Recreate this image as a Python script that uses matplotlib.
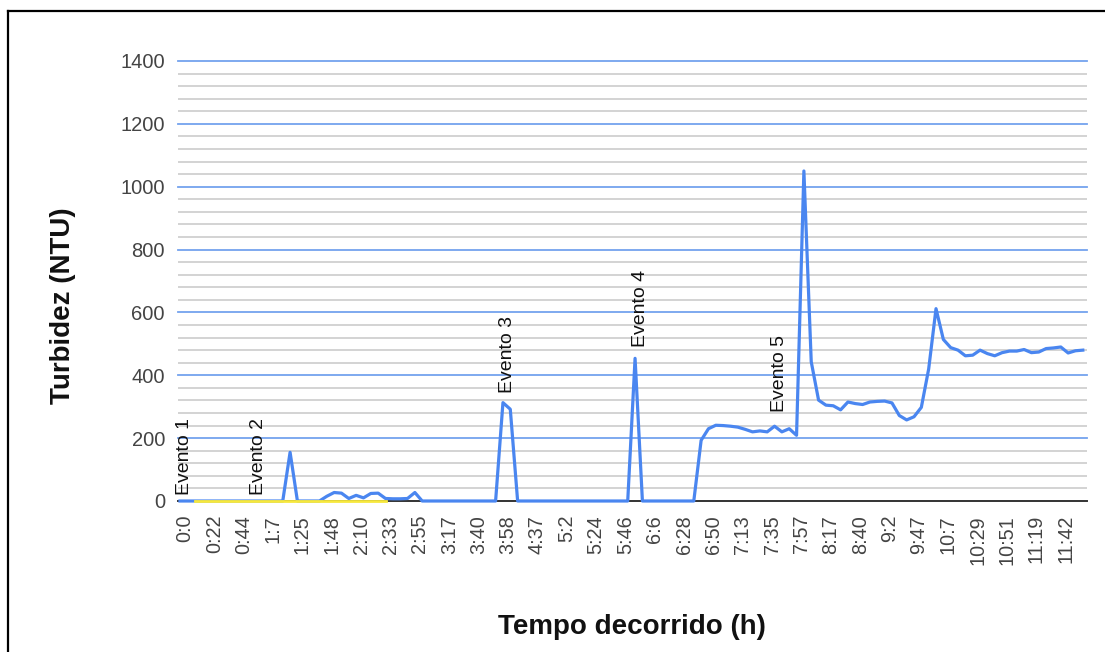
import matplotlib
matplotlib.use("Agg")
import matplotlib.pyplot as plt
import matplotlib.transforms as mtransforms
from matplotlib.lines import Line2D
import numpy as np

plt.rcParams['font.family'] = ['Liberation Sans', 'DejaVu Sans']

# ---- data ----
turbidez = [
    0, 0, 0, 0, 0, 0, 0, 0, 0, 0,
    0, 0, 0, 0, 0, 155, 0, 0, 0, 0,
    15, 27, 25, 8, 18, 10, 24, 25, 8, 7,
    7, 8, 27, 0, 0, 0, 0, 0, 0, 0,
    0, 0, 0, 0, 313, 292, 0, 0, 0, 0,
    0, 0, 0, 0, 0, 0, 0, 0, 0, 0,
    0, 0, 454, 0, 0, 0, 0, 0, 0, 0,
    0, 193, 230, 241, 240, 238, 235, 228, 220, 223,
    220, 238, 220, 230, 209, 1050, 443, 321, 305, 303,
    290, 315, 310, 307, 315, 317, 318, 312, 272, 258,
    268, 298, 420, 612, 514, 488, 480, 462, 464, 480,
    469, 462, 472, 477, 477, 482, 472, 474, 485, 487,
    490, 471, 478, 480,
]
serie_amarela = [np.nan, np.nan] + [0] * 27 + [np.nan] * 95

tick_labels = ['0:0', '0:22', '0:44', '1:7', '1:25', '1:48', '2:10', '2:33',
               '2:55', '3:17', '3:40', '3:58', '4:37', '5:2', '5:24', '5:46',
               '6:6', '6:28', '6:50', '7:13', '7:35', '7:57', '8:17', '8:40',
               '9:2', '9:47', '10:7', '10:29', '10:51', '11:19', '11:42']
label_step = 4

event_labels = ['Evento 1', 'Evento 2', 'Evento 3', 'Evento 4', 'Evento 5']
event_index = [0, 10, 44, 62, 81]
event_offset_px = [6, 6, 10, 11, 14]

# ---- figure ----
W, H = 1105, 652
fig = plt.figure(figsize=(W / 100, H / 100), dpi=100)
ax = fig.add_axes([178 / W, 1 - 501 / H, 909 / W, 440 / H])

x = np.arange(len(turbidez))
ax.set_xlim(-0.27, 123.57)
ax.set_ylim(0, 1400)

# grid
ax.set_yticks(np.arange(0, 1401, 200))
for v in np.arange(40, 1400, 40):
    if v % 200 != 0:
        ax.axhline(v, color='#d3d3d3', lw=1.4, zorder=0)
for v in np.arange(200, 1401, 200):
    ax.axhline(v, color='#74a2ee', lw=1.3, zorder=0.5, clip_on=False)
ax.axhline(0, color='#333333', lw=1.4, zorder=1, clip_on=False)

ax.plot(x, turbidez, color='#4a86f0', lw=2.3, zorder=3,
        solid_joinstyle='round', clip_on=False)
ax.plot(x, serie_amarela, color='#f7e83c', lw=2.0, zorder=4, clip_on=False)

for s in ax.spines.values():
    s.set_visible(False)

ax.tick_params(axis='both', which='both', length=0)
ax.tick_params(axis='y', pad=9.4, labelsize=14.5, labelcolor='#444444')
ax.tick_params(axis='x', pad=10, labelsize=14.3, labelcolor='#444444')
ax.set_yticklabels([str(v) for v in range(0, 1401, 200)])

tick_pos = list(range(0, len(turbidez), label_step))[:len(tick_labels)]
ax.set_xticks(tick_pos)
ax.set_xticklabels(tick_labels, rotation=90, ha='center', va='top')
offset = mtransforms.ScaledTranslation(5 / 100, 0, fig.dpi_scale_trans)
for lab in ax.get_xticklabels():
    lab.set_transform(lab.get_transform() + offset)

for lab, idx, off in zip(event_labels, event_index, event_offset_px):
    ax.annotate(lab, xy=(idx, turbidez[idx]), xytext=(5, off),
                textcoords='offset pixels', rotation=90, ha='center',
                va='bottom', fontsize=14, color='#111111', zorder=5,
                annotation_clip=False)

fig.text(63 / W, 1 - 306 / H, 'Turbidez (NTU)', rotation=90, ha='center',
         va='center', fontsize=20, fontweight='bold', color='#111111')
fig.text(632 / W, 1 - 627 / H, 'Tempo decorrido (h)', ha='center',
         va='center', fontsize=20, fontweight='bold', color='#111111')

# outer frame (left and top edges visible)
fig.add_artist(Line2D([8 / W, 8 / W], [0, 1 - 11 / H], transform=fig.transFigure,
                      color='black', lw=1.6))
fig.add_artist(Line2D([8 / W, 1], [1 - 11 / H, 1 - 11 / H], transform=fig.transFigure,
                      color='black', lw=1.6))

fig.savefig('out.png', dpi=100, facecolor='white')
